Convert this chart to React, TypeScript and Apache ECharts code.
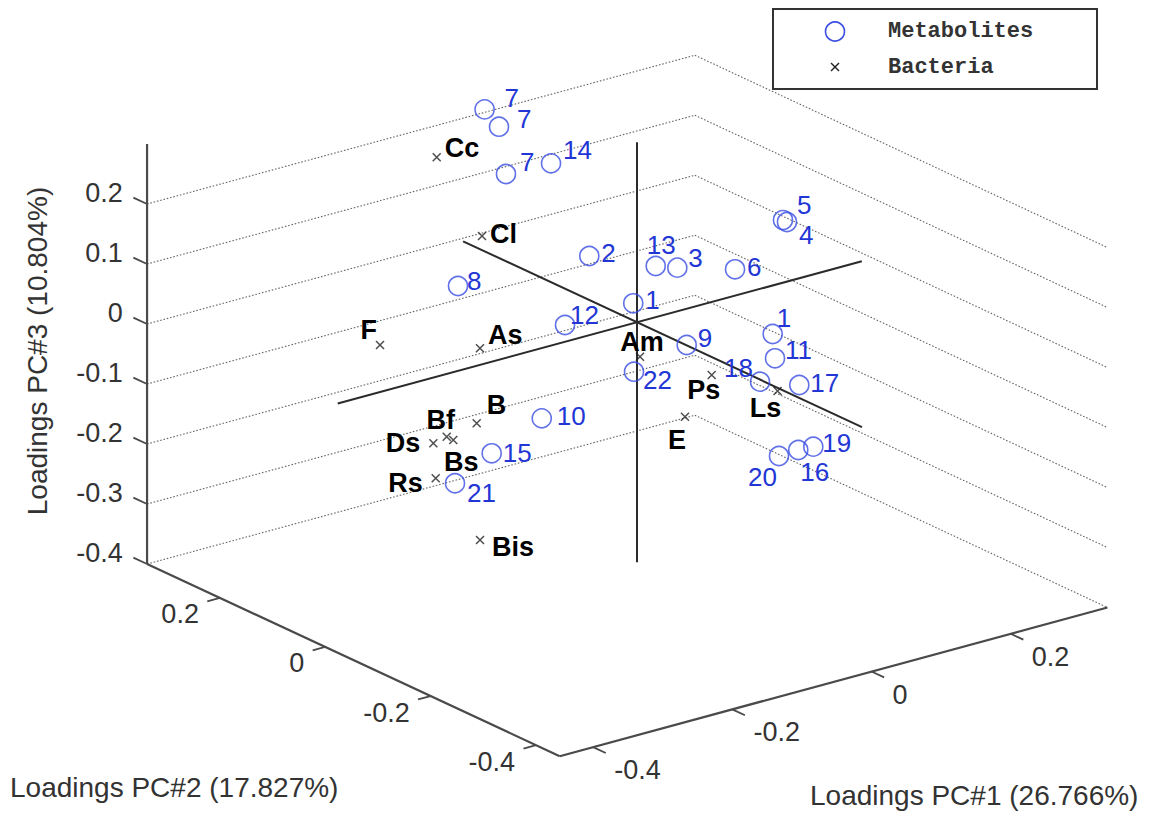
import React, { useEffect, useRef } from "react";
import * as echarts from "echarts";

// Axis limits of the 3-D loadings box
const PC1_LIMITS = [-0.448, 0.339];
const PC2_LIMITS = [-0.445, 0.338];
const PC3_LIMITS = [-0.4, 0.3];

// Tick values on each axis
const PC1_TICKS = [-0.4, -0.2, 0, 0.2];
const PC2_TICKS = [-0.4, -0.2, 0, 0.2];
const PC3_TICKS = [-0.4, -0.3, -0.2, -0.1, 0, 0.1, 0.2];

// Extent of the reference lines drawn through the origin
const PC1_AXIS_LINE = [-0.43, 0.323];
const PC2_AXIS_LINE = [-0.427, 0.33];
const PC3_AXIS_LINE = [-0.4, 0.3];

// Metabolite loadings
const METABOLITE_IDS = ["7", "7", "7", "14", "2", "13", "3", "6", "5", "4", "8", "1", "12", "9", "22", "1", "11", "18", "17", "19", "16", "20", "10", "15", "21"];
const METABOLITE_PC1 = [-0.066, -0.0694, -0.0659, -0.0432, -0.024, 0.0094, 0.0203, 0.0493, 0.0734, 0.0754, -0.09, -0.0019, -0.0362, 0.025, -0.0015, 0.0682, 0.0694, 0.0619, 0.0816, 0.0887, 0.0811, 0.0714, -0.0479, -0.0731, -0.0915];
const METABOLITE_PC2 = [0.202, 0.1702, 0.1616, 0.1061, 0.0588, -0.0231, -0.0497, -0.1209, -0.1801, -0.185, 0.2208, 0.0046, 0.0888, -0.0613, 0.0037, -0.1674, -0.1702, -0.1517, -0.2002, -0.2174, -0.1989, -0.1751, 0.1175, 0.1792, 0.2245];
const METABOLITE_PC3 = [0.293, 0.2782, 0.2018, 0.2352, 0.094, 0.1003, 0.105, 0.1223, 0.221, 0.2191, -0.0015, 0.0304, -0.0294, -0.0206, -0.0834, 0.0275, -0.0122, -0.0564, -0.0483, -0.1463, -0.157, -0.1737, -0.193, -0.2686, -0.3313];

// Bacteria loadings
const BACTERIA_NAMES = ["Cc", "Cl", "F", "As", "Am", "Ps", "Ls", "E", "B", "Bf", "Ds", "Bs", "Rs", "Bis"];
const BACTERIA_PC1 = [-0.1007, -0.0779, -0.1292, -0.079, 0.0015, 0.0376, 0.0707, 0.0241, -0.0806, -0.0957, -0.1024, -0.0924, -0.1012, -0.1353];
const BACTERIA_PC2 = [0.2471, 0.1912, 0.317, 0.1936, -0.0037, -0.0921, -0.1733, -0.0592, 0.1977, 0.2347, 0.2512, 0.2266, 0.2483, 0.1192];
const BACTERIA_PC3 = [0.2057, 0.0902, -0.1268, -0.0977, -0.0563, -0.062, -0.0659, -0.1407, -0.2238, -0.2566, -0.2722, -0.2598, -0.3297, -0.369];

// Label placement (pixel offset from the marker, text alignment)
type Place = [number, number, "left" | "right" | "center"];
const METABOLITE_LABEL_PLACE: Place[] = [
  [20, -11, "left"], [18, -8, "left"], [14, -12, "left"], [12, -13, "left"], [12, -3, "left"],
  [-9, -21, "left"], [11, -10, "left"], [12, -2, "left"], [14, -15, "left"], [12, 13, "left"],
  [9, -5, "left"], [12, -3, "left"], [5, -10, "left"], [11, -7, "left"], [9, 8, "left"],
  [4, -16, "left"], [10, -8, "left"], [-7, -14, "right"], [11, -2, "left"], [9, -4, "left"],
  [2, 22, "left"], [-2, 21, "right"], [15, -2, "left"], [11, 0, "left"], [12, 10, "left"],
];
const BACTERIA_LABEL_PLACE: Place[] = [
  [8, -9, "left"], [8, -2, "left"], [-3, -15, "right"], [8, -13, "left"], [2, -15, "center"],
  [-8, 15, "center"], [-12, 17, "center"], [-8, 23, "center"], [10, -18, "left"], [-6, -17, "center"],
  [-13, 0, "right"], [8, 22, "center"], [-13, 5, "right"], [12, 7, "left"],
];

// Orthographic view: screen direction (right, up) of a unit step along each PC
const VIEW_PC1 = [0.696, 0.189];
const VIEW_PC2 = [-0.527, 0.2455];
const VIEW_PC3 = [0, 0.6];

type P2 = [number, number];
const project = (a: number, b: number, c: number): P2 => [
  VIEW_PC1[0] * a + VIEW_PC2[0] * b + VIEW_PC3[0] * c,
  VIEW_PC1[1] * a + VIEW_PC2[1] * b + VIEW_PC3[1] * c,
];

const BLUE_TEXT = "#2236d6";
const BLUE_RING = "#3a4ee2";
const INK = "#333333";
const SANS = "'Liberation Sans', Arial, Helvetica, sans-serif";
const MONO = "'Liberation Mono', 'Courier New', monospace";

const fmtTick = (v: number) => (v === 0 ? "0" : String(v));

function segmentSeries(name: string, segs: [P2, P2][], style: any, z: number) {
  return {
    type: "custom",
    name,
    silent: true,
    z,
    coordinateSystem: "cartesian2d",
    encode: { x: [0, 2], y: [1, 3] },
    data: segs.map(([p, q]) => [p[0], p[1], q[0], q[1]]),
    renderItem: (_params: any, api: any) => {
      const a = api.coord([api.value(0), api.value(1)]);
      const b = api.coord([api.value(2), api.value(3)]);
      return {
        type: "line",
        shape: { x1: a[0], y1: a[1], x2: b[0], y2: b[1] },
        style: { ...style, fill: null },
      };
    },
  };
}

interface TextItem {
  pos: P2;
  text: string;
  dx: number;
  dy: number;
  align: string;
  size: number;
  weight: string;
  color: string;
  family: string;
}

function textSeries(name: string, items: TextItem[], z: number) {
  return {
    type: "custom",
    name,
    silent: true,
    z,
    coordinateSystem: "cartesian2d",
    encode: { x: 0, y: 1 },
    data: items.map((it) => [it.pos[0], it.pos[1]]),
    renderItem: (params: any, api: any) => {
      const it = items[params.dataIndex];
      const p = api.coord([api.value(0), api.value(1)]);
      return {
        type: "text",
        x: p[0] + it.dx,
        y: p[1] + it.dy,
        style: {
          text: it.text,
          fill: it.color,
          fontSize: it.size,
          fontWeight: it.weight,
          fontFamily: it.family,
          align: it.align,
          verticalAlign: "middle",
        },
      };
    },
  };
}

function buildOption() {
  const [x0, x1] = PC1_LIMITS;
  const [y0, y1] = PC2_LIMITS;
  const [z0, z1] = PC3_LIMITS;

  // dotted z-grid on the two back walls
  const grid: [P2, P2][] = [];
  PC3_TICKS.forEach((z) => {
    grid.push([project(x0, y1, z), project(x1, y1, z)]);
    grid.push([project(x1, y1, z), project(x1, y0, z)]);
  });

  // box edges carrying the tick marks
  const box: [P2, P2][] = [
    [project(x0, y1, z0), project(x0, y1, z1)],
    [project(x0, y1, z0), project(x0, y0, z0)],
    [project(x0, y0, z0), project(x1, y0, z0)],
  ];

  const ticks: [P2, P2][] = [];
  PC3_TICKS.forEach((z) => ticks.push([project(x0, y1, z), project(x0, y1 + 0.026, z)]));
  PC2_TICKS.forEach((y) => ticks.push([project(x0, y, z0), project(x0 - 0.018, y, z0)]));
  PC1_TICKS.forEach((x) => ticks.push([project(x, y0, z0), project(x, y0 - 0.024, z0)]));

  const originLines: [P2, P2][] = [
    [project(PC1_AXIS_LINE[0], 0, 0), project(PC1_AXIS_LINE[1], 0, 0)],
    [project(0, PC2_AXIS_LINE[0], 0), project(0, PC2_AXIS_LINE[1], 0)],
    [project(0, 0, PC3_AXIS_LINE[0]), project(0, 0, PC3_AXIS_LINE[1])],
  ];

  const tickText = (pos: P2, v: number, align: string): TextItem => ({
    pos, text: fmtTick(v), dx: 0, dy: 0, align, size: 27, weight: "normal", color: INK, family: SANS,
  });
  const tickLabels: TextItem[] = [
    ...PC3_TICKS.map((z) => tickText(project(x0, y1 + 0.046, z), z, "right")),
    ...PC2_TICKS.map((y) => tickText(project(x0 - 0.03, y, z0 - 0.018), y, "right")),
    ...PC1_TICKS.map((x) => tickText(project(x, y0 - 0.04, z0 - 0.022), x, "left")),
  ];

  const metPts = METABOLITE_IDS.map((_, i) => project(METABOLITE_PC1[i], METABOLITE_PC2[i], METABOLITE_PC3[i]));
  const bacPts = BACTERIA_NAMES.map((_, i) => project(BACTERIA_PC1[i], BACTERIA_PC2[i], BACTERIA_PC3[i]));

  const metLabels: TextItem[] = METABOLITE_IDS.map((id, i) => ({
    pos: metPts[i], text: id,
    dx: METABOLITE_LABEL_PLACE[i][0], dy: METABOLITE_LABEL_PLACE[i][1], align: METABOLITE_LABEL_PLACE[i][2],
    size: 26, weight: "normal", color: BLUE_TEXT, family: SANS,
  }));
  const bacLabels: TextItem[] = BACTERIA_NAMES.map((n, i) => ({
    pos: bacPts[i], text: n,
    dx: BACTERIA_LABEL_PLACE[i][0], dy: BACTERIA_LABEL_PLACE[i][1], align: BACTERIA_LABEL_PLACE[i][2],
    size: 27, weight: "bold", color: "#000000", family: SANS,
  }));

  return {
    animation: false,
    backgroundColor: "#ffffff",
    grid: { left: 0, right: 0, top: 0, bottom: 0 },
    xAxis: { type: "value", min: -0.637, max: 0.517, show: false },
    yAxis: { type: "value", min: -0.4967, max: 0.3223, show: false },
    series: [
      segmentSeries("grid", grid, { stroke: "#666666", lineWidth: 1.1, lineDash: [1.6, 1.8] }, 1),
      segmentSeries("box", box, { stroke: "#4a4a4a", lineWidth: 2.2 }, 2),
      segmentSeries("ticks", ticks, { stroke: "#4a4a4a", lineWidth: 1.8 }, 2),
      segmentSeries("origin", originLines, { stroke: "#2b2b2b", lineWidth: 2 }, 2),
      textSeries("tickLabels", tickLabels, 3),
      {
        type: "scatter",
        name: "Metabolites",
        silent: true,
        z: 4,
        symbol: "circle",
        symbolSize: 19,
        itemStyle: { color: "rgba(0,0,0,0)", borderColor: BLUE_RING, borderWidth: 1.6 },
        data: metPts,
      },
      {
        type: "scatter",
        name: "Bacteria",
        silent: true,
        z: 4,
        symbol: "path://M0,0L10,10M10,0L0,10",
        symbolSize: 8,
        itemStyle: { color: "none", borderColor: "#222222", borderWidth: 1.5 },
        data: bacPts,
      },
      textSeries("metaboliteLabels", metLabels, 5),
      textSeries("bacteriaLabels", bacLabels, 5),
    ],
    graphic: [
      {
        type: "text", x: 37, y: 351, rotation: Math.PI / 2, z: 10,
        style: { text: "Loadings PC#3 (10.804%)", fill: INK, fontSize: 28, fontFamily: SANS, align: "center", verticalAlign: "middle" },
      },
      {
        type: "text", x: 10, y: 787, z: 10,
        style: { text: "Loadings PC#2 (17.827%)", fill: INK, fontSize: 28, fontFamily: SANS, align: "left", verticalAlign: "middle" },
      },
      {
        type: "text", x: 810, y: 795, z: 10,
        style: { text: "Loadings PC#1 (26.766%)", fill: INK, fontSize: 28, fontFamily: SANS, align: "left", verticalAlign: "middle" },
      },
      {
        type: "group", z: 20,
        children: [
          { type: "rect", shape: { x: 773, y: 9, width: 324, height: 80 }, style: { fill: "#ffffff", stroke: "#333333", lineWidth: 2 } },
          { type: "circle", shape: { cx: 835, cy: 31.5, r: 9.5 }, style: { fill: "none", stroke: BLUE_RING, lineWidth: 1.6 } },
          { type: "line", shape: { x1: 831, y1: 63, x2: 839, y2: 71 }, style: { stroke: "#222222", lineWidth: 1.5 } },
          { type: "line", shape: { x1: 839, y1: 63, x2: 831, y2: 71 }, style: { stroke: "#222222", lineWidth: 1.5 } },
          { type: "text", x: 888, y: 31, style: { text: "Metabolites", fill: INK, fontSize: 22, fontWeight: "bold", fontFamily: MONO, align: "left", verticalAlign: "middle" } },
          { type: "text", x: 888, y: 67, style: { text: "Bacteria", fill: INK, fontSize: 22, fontWeight: "bold", fontFamily: MONO, align: "left", verticalAlign: "middle" } },
        ],
      },
    ],
  };
}

export default function App() {
  const ref = useRef<HTMLDivElement>(null);
  useEffect(() => {
    if (!ref.current) return;
    const chart = echarts.init(ref.current, null, { renderer: "svg" });
    chart.setOption(buildOption() as any);
    return () => chart.dispose();
  }, []);
  return (
    <div
      ref={ref}
      style={{ position: "absolute", left: 0, top: 0, width: 1154, height: 819, background: "#ffffff" }}
    />
  );
}
